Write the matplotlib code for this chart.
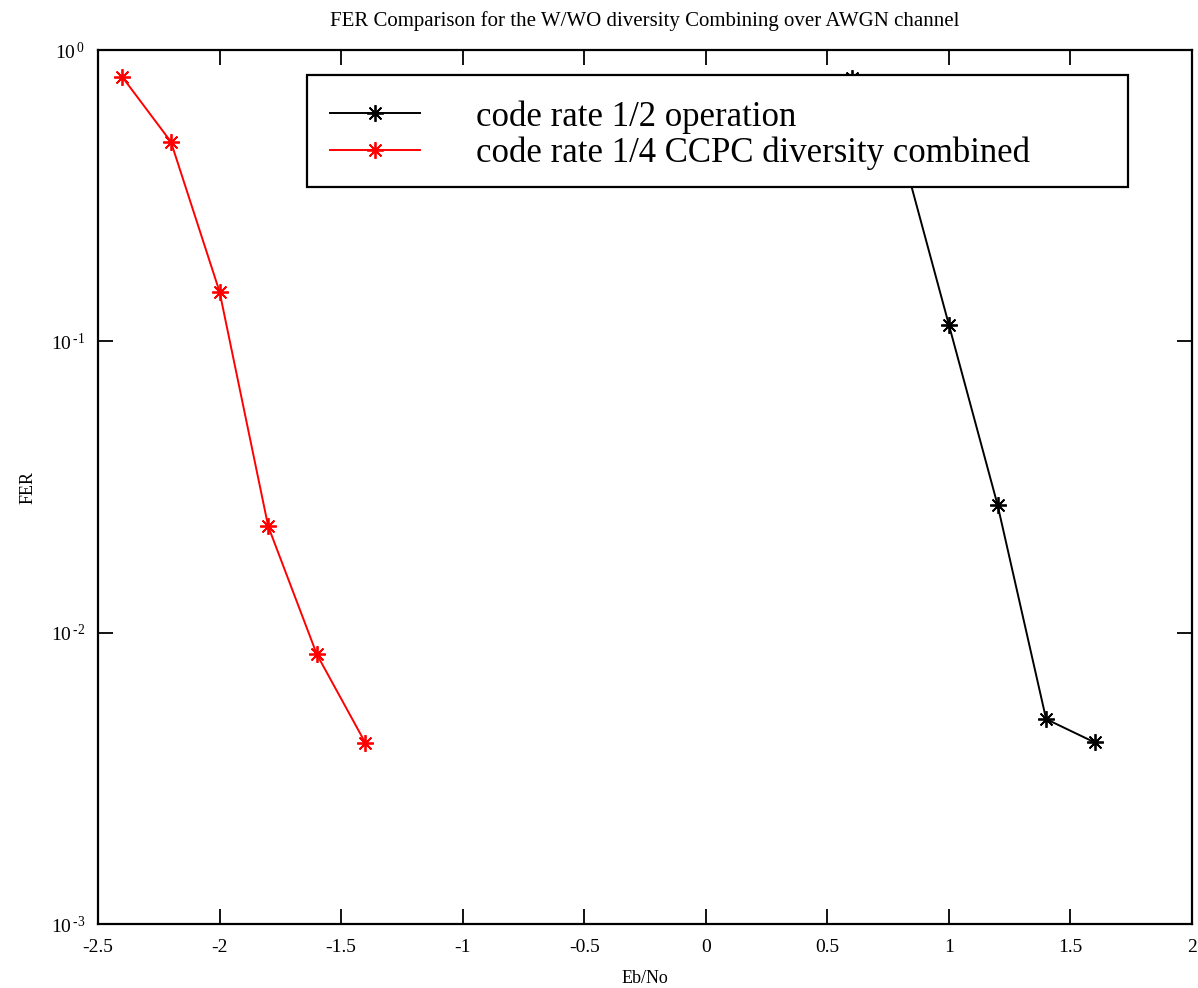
import matplotlib
matplotlib.use("Agg")
import matplotlib.pyplot as plt
from matplotlib.patches import Rectangle
from matplotlib.ticker import FixedLocator, FixedFormatter, NullLocator

plt.rcParams["font.family"] = ["Liberation Serif", "DejaVu Serif"]
plt.rcParams["mathtext.fontset"] = "custom"
plt.rcParams["mathtext.rm"] = "Liberation Serif"
plt.rcParams["mathtext.default"] = "regular"
plt.rcParams["axes.unicode_minus"] = False

# Eb/No (dB) and frame error rate for each scheme
ebno_half = [0.6, 0.8, 1.0, 1.2, 1.4, 1.6]
fer_half = [0.80, 0.472, 0.114, 0.0275, 0.00505, 0.0042]

ebno_ccpc = [-2.4, -2.2, -2.0, -1.8, -1.6, -1.4]
fer_ccpc = [0.808, 0.484, 0.148, 0.0232, 0.00843, 0.00418]

labels = ["code rate 1/2 operation", "code rate 1/4 CCPC diversity combined"]
x_ticks = [-2.5, -2, -1.5, -1, -0.5, 0, 0.5, 1, 1.5, 2]
x_tick_labels = ["-2.5", "-2", "-1.5", "-1", "-0.5", "0", "0.5", "1", "1.5", "2"]
y_ticks = [1e-3, 1e-2, 1e-1, 1e0]
y_exponents = ["-3", "-2", "-1", "0"]

W, H = 1198, 988
fig = plt.figure(figsize=(W / 100, H / 100), dpi=100)
ax = fig.add_axes([98 / W, 64 / H, 1094 / W, 874 / H])

asterisk = (8, 2, 0)
ax.plot(ebno_half, fer_half, color="black", lw=1.4, marker=asterisk,
        markersize=12, markeredgewidth=1.3, label=labels[0], zorder=2)
ax.plot(ebno_ccpc, fer_ccpc, color="red", lw=1.4, marker=asterisk,
        markersize=12, markeredgewidth=1.3, label=labels[1], zorder=2)

ax.set_yscale("log")
ax.set_xlim(-2.5, 2)
ax.set_ylim(1e-3, 1)
ax.set_xticks(x_ticks)
ax.set_xticklabels(x_tick_labels)
ax.yaxis.set_major_locator(FixedLocator(y_ticks))
ax.yaxis.set_major_formatter(FixedFormatter(
    [r"$10^{\,\text{%s}}$" % e for e in y_exponents]))
ax.yaxis.set_minor_locator(NullLocator())

ax.tick_params(axis="both", which="major", direction="in", length=11, width=1.3,
               top=True, right=True, labelsize=14)
ax.tick_params(axis="x", pad=11)
ax.tick_params(axis="y", pad=9)
for s in ax.spines.values():
    s.set_linewidth(1.6)

ax.set_xlabel("Eb/No", fontsize=13, labelpad=10)
ax.set_ylabel("FER", fontsize=13, labelpad=10)
ax.set_title("FER Comparison for the W/WO diversity Combining over AWGN channel",
             fontsize=15, pad=17)

# legend box: white fill behind, outline on top
bx0, by0 = (307 - 98) / 1094, (924 - 187) / 874
bw, bh = (1128 - 307) / 1094, (187 - 75) / 874
ax.add_patch(Rectangle((bx0, by0), bw, bh, transform=ax.transAxes,
                       facecolor="white", edgecolor="none", zorder=3, clip_on=False))
leg = ax.legend(loc="upper left", bbox_to_anchor=((330 - 98) / 1094, (924 - 100) / 874),
                frameon=False, fontsize=25, handlelength=2.6, handletextpad=1.6,
                borderpad=0, borderaxespad=0, labelspacing=0.1)
leg.set_zorder(4)
ax.add_patch(Rectangle((bx0, by0), bw, bh, transform=ax.transAxes,
                       facecolor="none", edgecolor="black", lw=1.6, zorder=5, clip_on=False))

fig.savefig("out.png", dpi=100)
